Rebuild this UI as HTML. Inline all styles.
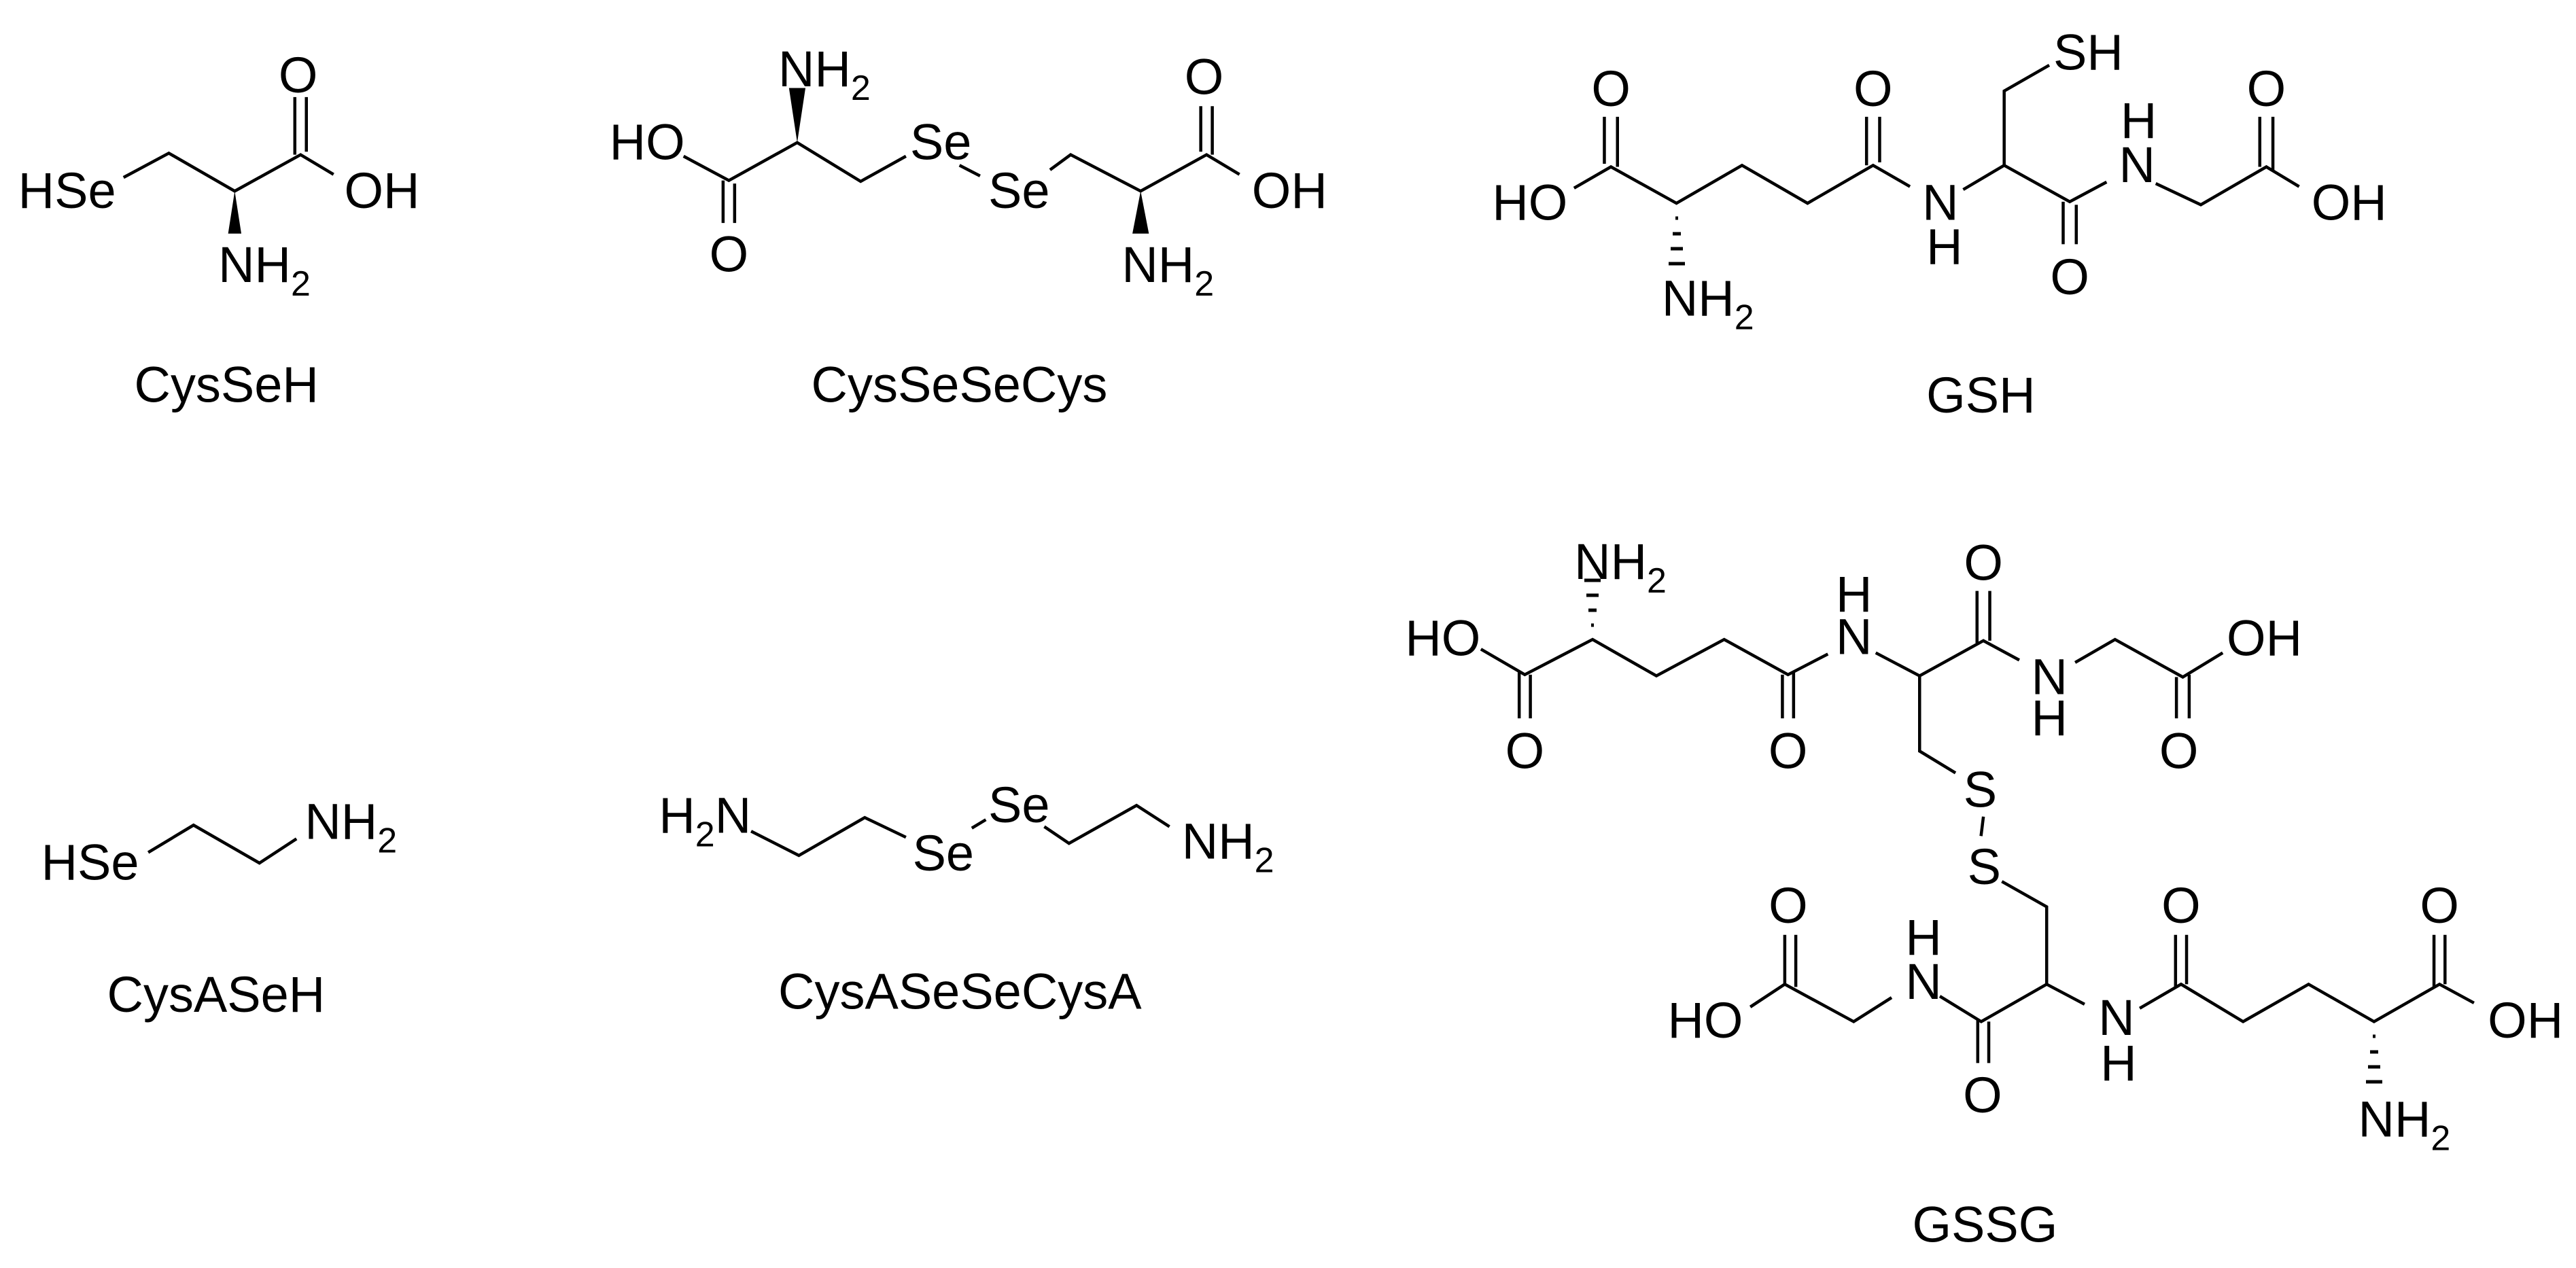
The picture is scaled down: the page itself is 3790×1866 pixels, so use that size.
<!DOCTYPE html>
<html><head><meta charset="utf-8"><style>
html,body{margin:0;padding:0;background:#fff}
svg{display:block}
text{font-family:"Liberation Sans",Arial,sans-serif;font-size:74px;fill:#000}
.l{fill:none;stroke:#000;stroke-width:4.5;vector-effect:non-scaling-stroke;stroke-linejoin:miter;stroke-linecap:butt}
.m{text-anchor:middle}
</style></head><body>
<svg width="3790" height="1866" viewBox="0 0 3790 1866" xmlns="http://www.w3.org/2000/svg">
<rect width="3790" height="1866" fill="#fff"/>

<!-- Group 1: CysSeH, CysSeSeCys -->
<g transform="translate(0,0) scale(1.2117,0.4464)">
  <polyline class="l" points="150,585 205,505 285,630 365,510 405,575"/>
  <line class="l" x1="358" y1="510" x2="358" y2="320"/><line class="l" x1="372" y1="500" x2="372" y2="320"/>
  <polygon points="285,630 277,770 293,770" fill="#000"/>
  <text transform="translate(22,685) scale(0.8253,2.24)">HSe</text>
  <text class="m" transform="translate(362,305) scale(0.8253,2.24)">O</text>
  <text transform="translate(418,685) scale(0.8253,2.24)">OH</text>
  <text transform="translate(265,930) scale(0.8253,2.24)">NH<tspan font-size="52" dy="20">2</tspan></text>
  <text transform="translate(163,1325) scale(0.8253,2.24)">CysSeH</text>

  <polyline class="l" points="830,515 885,595 968,470 1045,598 1100,515"/>
  <line class="l" x1="878" y1="595" x2="878" y2="735"/><line class="l" x1="892" y1="605" x2="892" y2="735"/>
  <polygon points="968,470 958,290 978,290" fill="#000"/>
  <text transform="translate(740,525) scale(0.8253,2.24)">HO</text>
  <text class="m" transform="translate(885,895) scale(0.8253,2.24)">O</text>
  <text transform="translate(945,285) scale(0.8253,2.24)">NH<tspan font-size="52" dy="20">2</tspan></text>
  <text transform="translate(1105,525) scale(0.8253,2.24)">Se</text>
  <line class="l" x1="1165" y1="545" x2="1190" y2="580"/>
  <text transform="translate(1200,685) scale(0.8253,2.24)">Se</text>
  <polyline class="l" points="1275,560 1300,510 1385,630 1465,510 1505,575"/>
  <line class="l" x1="1458" y1="500" x2="1458" y2="350"/><line class="l" x1="1472" y1="510" x2="1472" y2="350"/>
  <polygon points="1385,630 1375,770 1395,770" fill="#000"/>
  <text class="m" transform="translate(1462,310) scale(0.8253,2.24)">O</text>
  <text transform="translate(1520,685) scale(0.8253,2.24)">OH</text>
  <text transform="translate(1362,930) scale(0.8253,2.24)">NH<tspan font-size="52" dy="20">2</tspan></text>
  <text transform="translate(985,1325) scale(0.8253,2.24)">CysSeSeCys</text>
</g>

<!-- Group 2: GSH -->
<g transform="translate(1900,0) scale(1.2054,0.4464)">
  <polyline class="l" points="345,620 390,550 470,670 550,545 630,670 710,545 755,615"/>
  <line class="l" x1="382" y1="540" x2="382" y2="385"/><line class="l" x1="398" y1="550" x2="398" y2="385"/>
  <line class="l" x1="702" y1="545" x2="702" y2="385"/><line class="l" x1="718" y1="535" x2="718" y2="385"/>
  <text transform="translate(245,725) scale(0.8296,2.24)">HO</text>
  <text class="m" transform="translate(390,350) scale(0.8296,2.24)">O</text>
  <text class="m" transform="translate(710,350) scale(0.8296,2.24)">O</text>
  <text transform="translate(452,1040) scale(0.8296,2.24)">NH<tspan font-size="52" dy="20">2</tspan></text>
  <text transform="translate(770,725) scale(0.8296,2.24)">N</text>
  <text transform="translate(775,870) scale(0.8296,2.24)">H</text>
  <polyline class="l" points="820,625 870,545 950,665 995,600"/>
  <polyline class="l" points="870,545 870,300 925,215"/>
  <text transform="translate(930,230) scale(0.8296,2.24)">SH</text>
  <line class="l" x1="942" y1="665" x2="942" y2="805"/><line class="l" x1="958" y1="675" x2="958" y2="805"/>
  <text class="m" transform="translate(950,970) scale(0.8296,2.24)">O</text>
  <text transform="translate(1010,600) scale(0.8296,2.24)">N</text>
  <text transform="translate(1012,455) scale(0.8296,2.24)">H</text>
  <polyline class="l" points="1055,605 1110,675 1190,550 1230,615"/>
  <line class="l" x1="1182" y1="550" x2="1182" y2="385"/><line class="l" x1="1198" y1="560" x2="1198" y2="385"/>
  <text class="m" transform="translate(1190,350) scale(0.8296,2.24)">O</text>
  <text transform="translate(1245,725) scale(0.8296,2.24)">OH</text>
  <text transform="translate(775,1360) scale(0.8296,2.24)">GSH</text>
</g>
<g stroke="#000" stroke-width="5">
  <line x1="2465" y1="321" x2="2469" y2="321"/><line x1="2461" y1="344" x2="2473" y2="344"/>
  <line x1="2458" y1="366" x2="2476" y2="366"/><line x1="2455" y1="388" x2="2479" y2="388"/>
</g>

<!-- Group 3: CysASeH, CysASeSeCysA -->
<g transform="translate(0,1000) scale(1.2117,0.4464)">
  <polyline class="l" points="180,570 235,480 315,605 360,525"/>
  <text transform="translate(50,660) scale(0.8253,2.24)">HSe</text>
  <text transform="translate(370,525) scale(0.8253,2.24)">NH<tspan font-size="52" dy="20">2</tspan></text>
  <text transform="translate(130,1095) scale(0.8253,2.24)">CysASeH</text>

  <text transform="translate(800,505) scale(0.8253,2.24)">H<tspan font-size="52" dy="20">2</tspan><tspan dy="-20">N</tspan></text>
  <polyline class="l" points="912,500 970,580 1050,455 1100,520"/>
  <text transform="translate(1108,630) scale(0.8253,2.24)">Se</text>
  <line class="l" x1="1180" y1="490" x2="1197" y2="462"/>
  <text transform="translate(1200,470) scale(0.8253,2.24)">Se</text>
  <polyline class="l" points="1268,485 1298,540 1380,415 1420,485"/>
  <text transform="translate(1435,590) scale(0.8253,2.24)">NH<tspan font-size="52" dy="20">2</tspan></text>
  <text transform="translate(945,1085) scale(0.8253,2.24)">CysASeSeCysA</text>
</g>

<!-- Group 4: GSSG top -->
<g transform="translate(1950,750) scale(1.1735,0.3571)">
  <text transform="translate(312,285) scale(0.8522,2.8)">NH<tspan font-size="52" dy="20">2</tspan></text>
  <text transform="translate(100,600) scale(0.8522,2.8)">HO</text>
  <polyline class="l" points="195,575 250,680 335,535 415,685 500,535 580,680 630,595"/>
  <line class="l" x1="243" y1="670" x2="243" y2="860"/><line class="l" x1="257" y1="680" x2="257" y2="860"/>
  <line class="l" x1="573" y1="680" x2="573" y2="860"/><line class="l" x1="587" y1="670" x2="587" y2="860"/>
  <text class="m" transform="translate(250,1065) scale(0.8522,2.8)">O</text>
  <text class="m" transform="translate(580,1065) scale(0.8522,2.8)">O</text>
  <text transform="translate(640,595) scale(0.8522,2.8)">N</text>
  <text transform="translate(640,420) scale(0.8522,2.8)">H</text>
  <polyline class="l" points="690,590 745,685 825,540 870,620"/>
  <polyline class="l" points="745,685 745,995 790,1085"/>
  <line class="l" x1="817" y1="550" x2="817" y2="335"/><line class="l" x1="833" y1="540" x2="833" y2="335"/>
  <text class="m" transform="translate(825,290) scale(0.8522,2.8)">O</text>
  <text transform="translate(885,760) scale(0.8522,2.8)">N</text>
  <text transform="translate(885,930) scale(0.8522,2.8)">H</text>
  <polyline class="l" points="940,630 990,535 1075,690 1125,590"/>
  <line class="l" x1="1067" y1="690" x2="1067" y2="860"/><line class="l" x1="1083" y1="680" x2="1083" y2="860"/>
  <text class="m" transform="translate(1070,1065) scale(0.8522,2.8)">O</text>
  <text transform="translate(1130,600) scale(0.8522,2.8)">OH</text>
  <text transform="translate(800,1225) scale(0.8522,2.8)">S</text>
  <line class="l" x1="825" y1="1265" x2="822" y2="1345"/>
</g>
<g stroke="#000" stroke-width="5">
  <line x1="2341" y1="920" x2="2345" y2="920"/><line x1="2337" y1="898" x2="2349" y2="898"/>
  <line x1="2334" y1="876" x2="2352" y2="876"/><line x1="2331" y1="854" x2="2355" y2="854"/>
</g>

<!-- Group 5: GSSG bottom -->
<g transform="translate(2200,1250) scale(1.014,0.3929)">
  <text transform="translate(685,130) scale(0.986,2.545)">S</text>
  <polyline class="l" points="735,120 800,215 800,505"/>
  <text transform="translate(250,705) scale(0.986,2.545)">HO</text>
  <polyline class="l" points="370,590 420,505 520,645 575,555"/>
  <line class="l" x1="420" y1="505" x2="420" y2="320"/><line class="l" x1="436" y1="515" x2="436" y2="320"/>
  <text class="m" transform="translate(425,275) scale(0.986,2.545)">O</text>
  <text transform="translate(595,560) scale(0.986,2.545)">N</text>
  <text transform="translate(595,395) scale(0.986,2.545)">H</text>
  <polyline class="l" points="645,550 705,645 800,505 855,580"/>
  <line class="l" x1="700" y1="635" x2="700" y2="800"/><line class="l" x1="716" y1="645" x2="716" y2="800"/>
  <text class="m" transform="translate(707,985) scale(0.986,2.545)">O</text>
  <text transform="translate(875,695) scale(0.986,2.545)">N</text>
  <text transform="translate(878,865) scale(0.986,2.545)">H</text>
  <polyline class="l" points="935,595 995,505 1085,645 1180,505 1275,645 1370,505 1420,575"/>
  <line class="l" x1="987" y1="515" x2="987" y2="320"/><line class="l" x1="1003" y1="505" x2="1003" y2="320"/>
  <text class="m" transform="translate(995,275) scale(0.986,2.545)">O</text>
  <line class="l" x1="1362" y1="515" x2="1362" y2="320"/><line class="l" x1="1378" y1="505" x2="1378" y2="320"/>
  <text class="m" transform="translate(1370,275) scale(0.986,2.545)">O</text>
  <text transform="translate(1440,705) scale(0.986,2.545)">OH</text>
  <text transform="translate(1252,1075) scale(0.986,2.545)">NH<tspan font-size="52" dy="20">2</tspan></text>
  <text transform="translate(605,1470) scale(0.986,2.545)">GSSG</text>
</g>
<g stroke="#000" stroke-width="5">
  <line x1="3491" y1="1525" x2="3495" y2="1525"/><line x1="3487" y1="1548" x2="3499" y2="1548"/>
  <line x1="3484" y1="1570" x2="3502" y2="1570"/><line x1="3481" y1="1592" x2="3505" y2="1592"/>
</g>
</svg>
</body></html>
